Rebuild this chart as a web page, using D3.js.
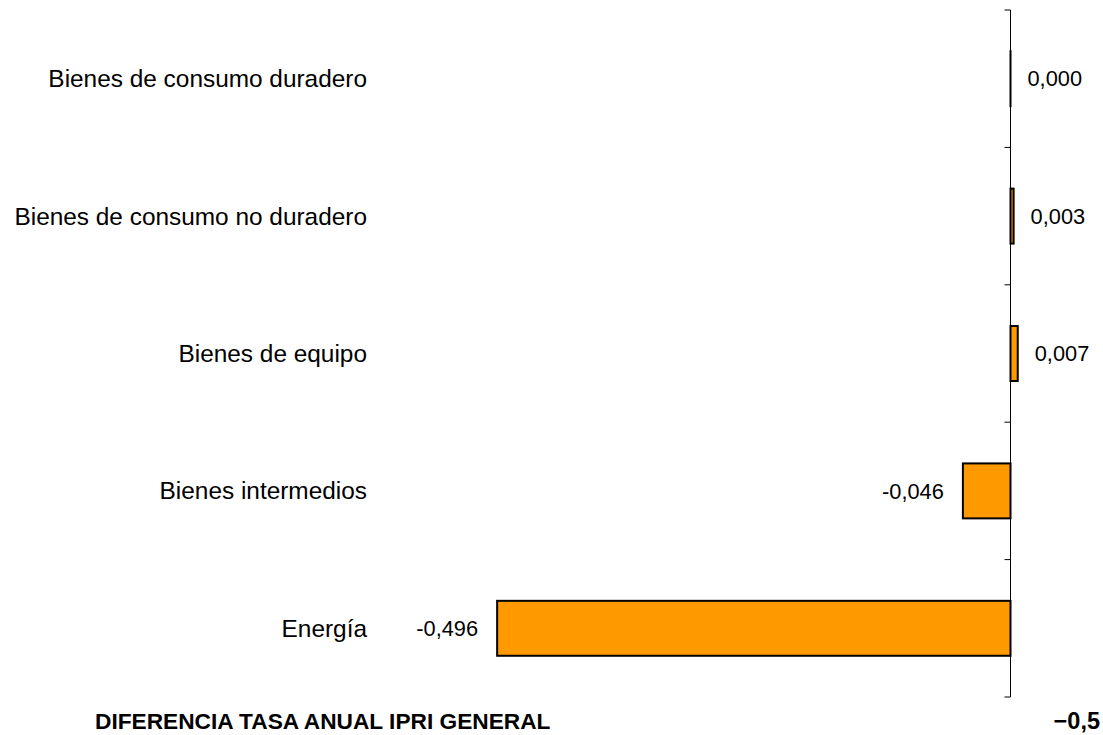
<!DOCTYPE html>
<html>
<head>
<meta charset="utf-8">
<script src="https://cdn.jsdelivr.net/npm/d3@7"></script>
<style>
  body { margin: 0; background: #fff; }
  svg { font-family: Arial, "Liberation Sans", sans-serif; }
</style>
</head>
<body>
<svg></svg>
<script>
const categories = ["Bienes de consumo duradero", "Bienes de consumo no duradero", "Bienes de equipo", "Bienes intermedios", "Energía"];
const values = [0.000, 0.003, 0.007, -0.046, -0.496];
const labels = ["0,000", "0,003", "0,007", "-0,046", "-0,496"];
const title = "DIFERENCIA TASA ANUAL IPRI GENERAL";
const totalLabel = "\u22120,5";

const svgCanvas = d3.select("svg")
    .attr("width", 1103)
    .attr("height", 735);

const data = categories.map(function(c, i) {
    return { cat: c, value: values[i], label: labels[i] };
});

const x = d3.scaleLinear()
    .domain([-0.5, 0])
    .range([493, 1010.5]);

const y = d3.scaleBand()
    .domain(categories)
    .range([10, 697])
    .paddingInner(0.6)
    .paddingOuter(0.3);

// bars
svgCanvas.selectAll("rect.bar")
    .data(data)
    .join("rect")
    .attr("class", "bar")
    .attr("x", d => x(Math.min(0, d.value)))
    .attr("y", d => y(d.cat))
    .attr("width", d => Math.max(0.01, Math.abs(x(d.value) - x(0))))
    .attr("height", y.bandwidth())
    .attr("fill", "#ff9900")
    .attr("stroke", "#000")
    .attr("stroke-width", 2);

// axis line + ticks at band edges
const edges = d3.range(categories.length + 1).map(i => 10 + i * (687 / categories.length));
svgCanvas.append("line")
    .attr("x1", x(0)).attr("x2", x(0))
    .attr("y1", 10).attr("y2", 697)
    .attr("stroke", "#000").attr("stroke-width", 1);
svgCanvas.selectAll("line.tick")
    .data(edges)
    .join("line")
    .attr("class", "tick")
    .attr("x1", x(0) - 6).attr("x2", x(0))
    .attr("y1", d => d).attr("y2", d => d)
    .attr("stroke", "#000").attr("stroke-width", 1);

// category labels
svgCanvas.selectAll("text.cat")
    .data(data)
    .join("text")
    .attr("class", "cat")
    .attr("x", 367)
    .attr("y", d => y(d.cat) + y.bandwidth() / 2)
    .attr("dy", "0.35em")
    .attr("text-anchor", "end")
    .attr("font-size", 24.4)
    .text(d => d.cat);

// value labels
svgCanvas.selectAll("text.val")
    .data(data)
    .join("text")
    .attr("class", "val")
    .attr("x", d => d.value < 0 ? x(d.value) - 19 : x(d.value) + 17)
    .attr("y", d => y(d.cat) + y.bandwidth() / 2)
    .attr("dy", "0.35em")
    .attr("text-anchor", d => d.value < 0 ? "end" : "start")
    .attr("font-size", 21.8)
    .text(d => d.label);

// bottom title and total
svgCanvas.append("text")
    .attr("x", 95)
    .attr("y", 728.5)
    .attr("font-size", 22.7)
    .attr("font-weight", "bold")
    .text(title);

svgCanvas.append("text")
    .attr("x", 1100)
    .attr("y", 729)
    .attr("text-anchor", "end")
    .attr("font-size", 23.5)
    .attr("font-weight", "bold")
    .text(totalLabel);
</script>
</body>
</html>
